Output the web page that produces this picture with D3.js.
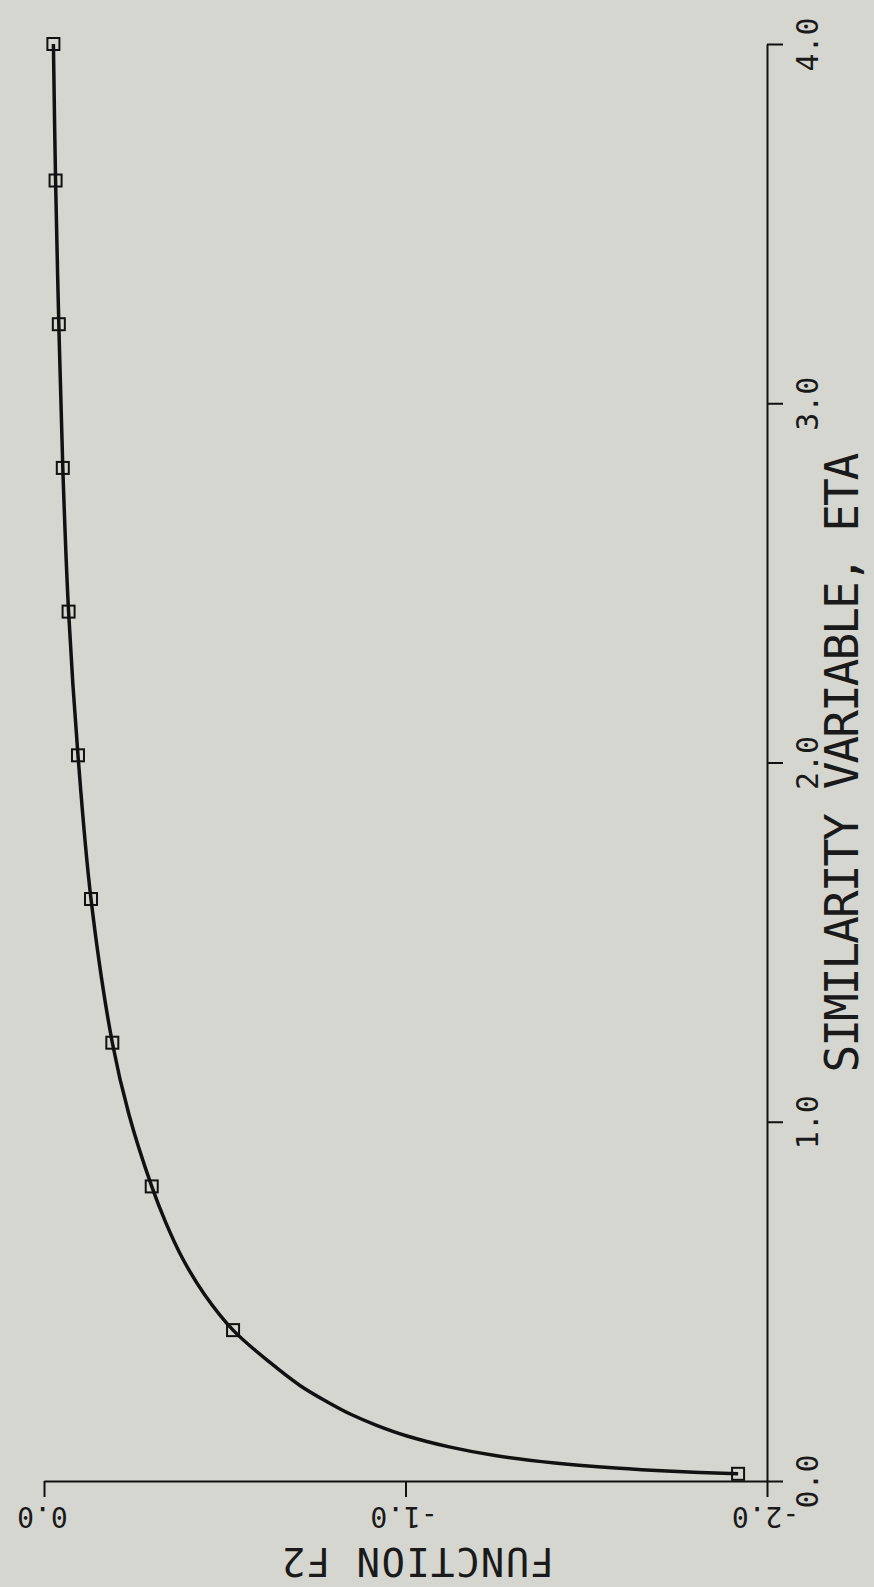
<!DOCTYPE html>
<html>
<head>
    <title>Function F2 vs Similarity Variable</title>
    <script src="https://d3js.org/d3.v7.min.js"></script>
    <style>
        body { margin: 0; background: #d6d6d0; }
        text { font-family: "DejaVu Sans Mono", monospace; fill: #1a1a1a; }
    </style>
</head>
<body>
    <div id="chart"></div>

    <script>
        // Data: eta (similarity variable) and F2 at the square markers
        const markerEta = [0.02, 0.42, 0.82, 1.22, 1.62, 2.02, 2.42, 2.82, 3.22, 3.62, 4.0];
        const markerF2  = [-1.92, -0.523, -0.298, -0.189, -0.130, -0.094, -0.068, -0.052, -0.041, -0.032, -0.026];

        // extra points along the solid curve near the wall, where it bends hard
        const curveEta = [0.02, 0.027, 0.036, 0.05, 0.07, 0.095, 0.126, 0.155, 0.185, 0.22, 0.266, 0.33, 0.42,
                          0.52, 0.62, 0.72, 0.82, 1.02, 1.22, 1.62, 2.02, 2.42, 2.82, 3.22, 3.62, 4.0];
        const curveF2  = [-1.92, -1.738, -1.581, -1.413, -1.252, -1.121, -1.002, -0.920, -0.850, -0.784, -0.708, -0.625, -0.523,
                          -0.4435, -0.383, -0.3366, -0.298, -0.235, -0.189, -0.130, -0.094, -0.068, -0.052, -0.041, -0.032, -0.026];

        const etaTicks = [0, 1, 2, 3, 4];
        const f2Ticks = [0, -1, -2];

        const W = 874, H = 1587;

        const svg = d3.select("#chart")
          .append("svg")
            .attr("width", W)
            .attr("height", H);

        svg.append("rect")
            .attr("width", W).attr("height", H)
            .attr("fill", "#d6d6d0");

        // the page is the plot turned a quarter turn: F2 runs across, eta runs up
        const x = d3.scaleLinear().domain([0, -2]).range([44, 767]);
        const y = d3.scaleLinear().domain([0, 4]).range([1481, 44]);

        // eta axis on the right (frame at F2 = -2)
        const etaAxis = svg.append("g")
            .attr("transform", `translate(${x(-2)},0)`)
            .call(d3.axisRight(y).tickValues(etaTicks).tickSize(16).tickSizeOuter(0)
                  .tickFormat(d => d.toFixed(1)));

        etaAxis.selectAll("text")
            .attr("x", 0).attr("dy", null)
            .attr("transform", "translate(40,0) rotate(-90)")
            .attr("text-anchor", "middle")
            .attr("dominant-baseline", "central")
            .style("font-size", "30px");

        // F2 axis along the bottom (frame at eta = 0)
        const f2Axis = svg.append("g")
            .attr("transform", `translate(0,${y(0)})`)
            .call(d3.axisBottom(x).tickValues(f2Ticks).tickSize(16).tickSizeOuter(0)
                  .tickFormat(d => d.toFixed(1)));

        f2Axis.selectAll("text")
            .attr("y", 0).attr("dy", null)
            .attr("transform", "translate(-2,35) rotate(180)")
            .attr("text-anchor", "middle")
            .attr("dominant-baseline", "central")
            .style("font-size", "28px");

        svg.selectAll(".domain, .tick line")
            .attr("stroke", "#111")
            .attr("stroke-width", 2);

        // axis titles
        svg.append("text")
            .attr("transform", `translate(842,${y(2)}) rotate(-90)`)
            .attr("text-anchor", "middle")
            .attr("dominant-baseline", "central")
            .style("font-size", "46px")
            .attr("textLength", 620)
            .text("SIMILARITY VARIABLE, ETA");

        svg.append("text")
            .attr("transform", "translate(418,1561) rotate(180)")
            .attr("text-anchor", "middle")
            .attr("dominant-baseline", "central")
            .style("font-size", "39px")
            .attr("textLength", 272)
            .text("FUNCTION F2");

        // solid curve
        const curve = curveEta.map((e, i) => ({ eta: e, f2: curveF2[i] }));
        const line = d3.line()
            .x(d => x(d.f2))
            .y(d => y(d.eta))
            .curve(d3.curveCatmullRom);

        svg.append("path")
            .datum(curve)
            .attr("d", line)
            .attr("fill", "none")
            .attr("stroke", "#111")
            .attr("stroke-width", 3.5);

        // square markers
        const markers = markerEta.map((e, i) => ({ eta: e, f2: markerF2[i] }));
        svg.append("g")
          .selectAll("rect")
          .data(markers)
          .enter()
          .append("rect")
            .attr("x", d => x(d.f2) - 6)
            .attr("y", d => y(d.eta) - 6)
            .attr("width", 12)
            .attr("height", 12)
            .attr("fill", "none")
            .attr("stroke", "#111")
            .attr("stroke-width", 2);
    </script>
</body>
</html>
